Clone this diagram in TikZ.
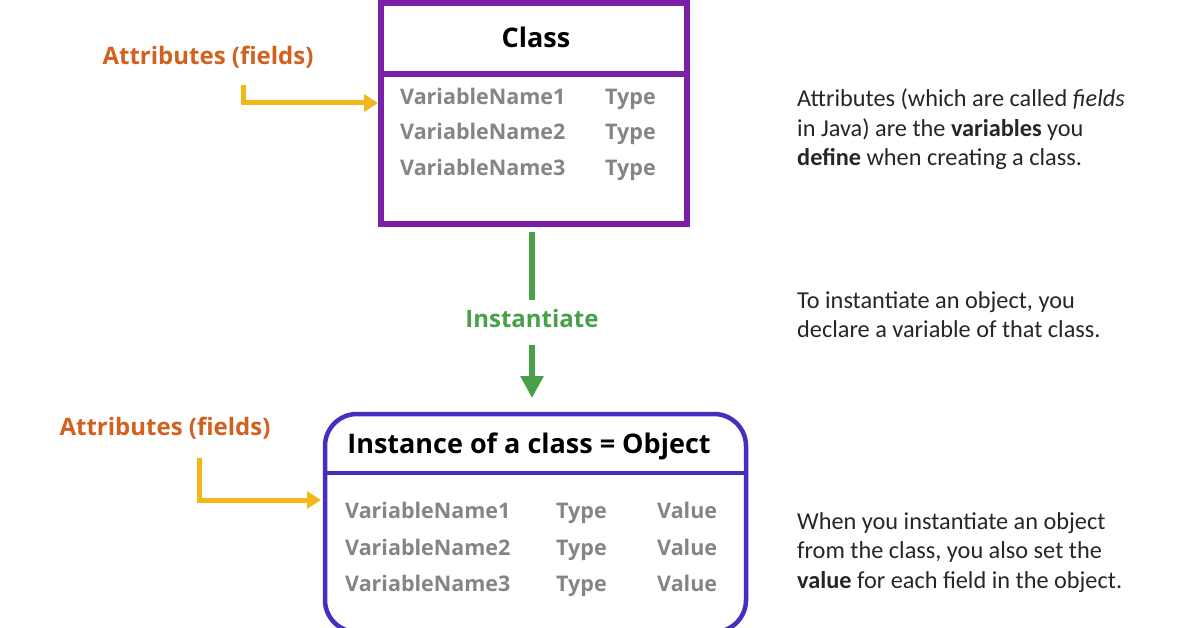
\documentclass[tikz,border=0pt]{standalone}
\usepackage{fontspec}
\setmainfont{Open Sans}
\newfontfamily\descfont{Carlito}
\usetikzlibrary{arrows.meta}
\definecolor{classpurple}{HTML}{7A1FA8}
\definecolor{objblue}{HTML}{4430C0}
\definecolor{attrorange}{HTML}{D2601E}
\definecolor{arrowgold}{HTML}{F2B81A}
\definecolor{instgreen}{HTML}{48A048}
\definecolor{rowgray}{HTML}{858585}
\tikzset{
  row/.style={anchor=base west, inner sep=0pt, text=rowgray, font=\fontsize{21.5}{24}\selectfont\bfseries},
  boxtitle/.style={inner sep=0pt, text=black, font=\fontsize{27}{30}\selectfont\bfseries},
  attr/.style={inner sep=0pt, text=attrorange, font=\fontsize{24}{27}\selectfont\bfseries},
  desc/.style={anchor=north west, inner sep=0pt, align=left, text=black!85,
    font=\descfont\fontsize{24.3}{29.5}\selectfont},
  goldarrow/.style={draw=arrowgold, line width=5pt, -{Triangle[length=14pt,width=17pt]}},
  greenline/.style={draw=instgreen, line width=6pt},
}
\begin{document}
\begin{tikzpicture}[x=1pt,y=-1pt]
\useasboundingbox (0,0) rectangle (1196,628);
\clip (0,0) rectangle (1196,628);
\fill[white] (0,0) rectangle (1196,628);

% Class box
\draw[classpurple, line width=6pt] (381,3) rectangle (687,224);
\draw[classpurple, line width=6pt] (381,74) -- (687,74);
\node[boxtitle] (classtitle) at (536,37) {Class};
\node[row] (c1) at (400,105) {VariableName1};
\node[row] (c2) at (400,140) {VariableName2};
\node[row] (c3) at (400,176) {VariableName3};
\node[row] (t1) at (605,105) {Type};
\node[row] (t2) at (605,140) {Type};
\node[row] (t3) at (605,176) {Type};
\coordinate (classbottom) at (532,232);
\coordinate (classleft) at (378,103);

% Attributes label top
\node[attr] (attr1) at (208,57) {Attributes (fields)};
\coordinate (a1start) at (243,85);
\draw[goldarrow] (a1start) |- (classleft);

% Instantiate
\node[inner sep=0pt, text=instgreen, font=\fontsize{24}{27}\selectfont\bfseries] (inst) at (532,318) {Instantiate};
\coordinate (greenend) at (532,300);
\draw[greenline] (classbottom) -- (greenend);
\coordinate (greenstart) at (532,345);
\coordinate (objtop) at (532,398);
\draw[greenline, -{Triangle[length=22pt,width=22pt]}] (greenstart) -- (objtop);

% Object box
\draw[objblue, line width=4.5pt, rounded corners=32pt] (325,414) rectangle (746,632);
\draw[objblue, line width=4.5pt] (325,473) -- (746,473);
\node[boxtitle] (objtitle) at (529,446) {Instance of a class = Object};
\node[row] (o1) at (345,518) {VariableName1};
\node[row] (o2) at (345,555) {VariableName2};
\node[row] (o3) at (345,591) {VariableName3};
\node[row] (ot1) at (556,518) {Type};
\node[row] (ot2) at (556,555) {Type};
\node[row] (ot3) at (556,591) {Type};
\node[row] (ov1) at (657,518) {Value};
\node[row] (ov2) at (657,555) {Value};
\node[row] (ov3) at (657,591) {Value};
\coordinate (objleft) at (321,500);

% Attributes label bottom
\node[attr] (attr2) at (165,428) {Attributes (fields)};
\coordinate (a2start) at (199,458);
\draw[goldarrow] (a2start) |- (objleft);

% Descriptions
\node[desc] (d1) at (797,89) {Attributes (which are called \textit{fields}\\in Java) are the \textbf{variables} you\\\textbf{define} when creating a class.};
\node[desc] (d2) at (797,291) {To instantiate an object, you\\declare a variable of that class.};
\node[desc] (d3) at (797,512) {When you instantiate an object\\from the class, you also set the\\\textbf{value} for each field in the object.};
\end{tikzpicture}
\end{document}
